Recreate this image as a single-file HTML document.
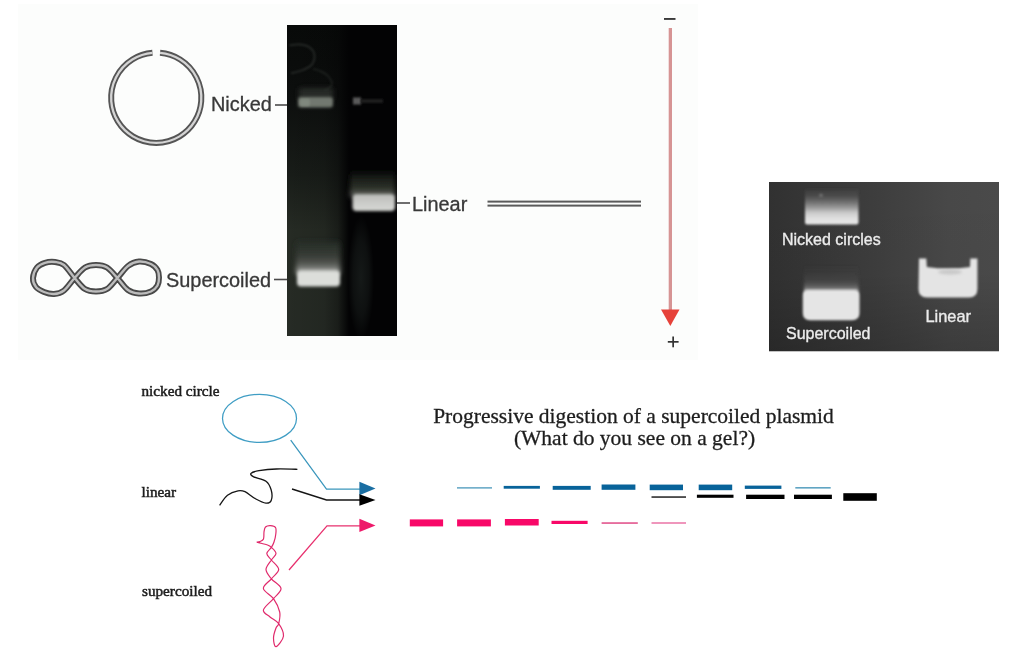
<!DOCTYPE html>
<html><head><meta charset="utf-8">
<style>
html,body{margin:0;padding:0;background:#fff;}
body{width:1030px;height:670px;overflow:hidden;position:relative;}
svg{position:absolute;left:0;top:0;}
</style></head>
<body>
<svg width="1030" height="670" viewBox="0 0 1030 670">
<defs>
<filter id="b1" filterUnits="userSpaceOnUse" x="0" y="0" width="1030" height="670"><feGaussianBlur stdDeviation="1.3"/></filter>
<filter id="b15" filterUnits="userSpaceOnUse" x="0" y="0" width="1030" height="670"><feGaussianBlur stdDeviation="1.8"/></filter>
<filter id="b2" filterUnits="userSpaceOnUse" x="0" y="0" width="1030" height="670"><feGaussianBlur stdDeviation="2.5"/></filter>
<filter id="b4" filterUnits="userSpaceOnUse" x="0" y="0" width="1030" height="670"><feGaussianBlur stdDeviation="5"/></filter>
<filter id="b8" filterUnits="userSpaceOnUse" x="0" y="0" width="1030" height="670"><feGaussianBlur stdDeviation="9"/></filter>
<filter id="t1"><feGaussianBlur stdDeviation="0.3"/></filter>
<filter id="t2"><feGaussianBlur stdDeviation="0.45"/></filter>
<clipPath id="g1c"><rect x="287" y="25" width="110" height="311"/></clipPath>
<clipPath id="g2c"><rect x="769" y="182" width="230" height="169.5"/></clipPath>
<radialGradient id="haze"><stop offset="0" stop-color="#151918"/><stop offset="0.6" stop-color="#151918" stop-opacity="0.6"/><stop offset="1" stop-color="#151918" stop-opacity="0"/></radialGradient>
<linearGradient id="g2h" x1="0" y1="0" x2="1" y2="0">
<stop offset="0" stop-color="#313131"/>
<stop offset="0.48" stop-color="#3e3e3e"/>
<stop offset="0.78" stop-color="#484848"/>
<stop offset="1" stop-color="#4a4a4a"/>
</linearGradient>
<linearGradient id="g2v" x1="0" y1="0" x2="0" y2="1">
<stop offset="0" stop-color="#000" stop-opacity="0"/>
<stop offset="0.55" stop-color="#000" stop-opacity="0.02"/>
<stop offset="1" stop-color="#000" stop-opacity="0.18"/>
</linearGradient>
<linearGradient id="nickG" x1="0" y1="0" x2="0" y2="1">
<stop offset="0" stop-color="#4e4e4e" stop-opacity="0"/>
<stop offset="0.22" stop-color="#4e4e4e" stop-opacity="0.9"/>
<stop offset="0.39" stop-color="#707070"/>
<stop offset="0.56" stop-color="#a0a0a0"/>
<stop offset="0.67" stop-color="#c8c8c8"/>
<stop offset="0.83" stop-color="#e0e0e0"/>
<stop offset="1" stop-color="#e6e6e6"/>
</linearGradient>
<linearGradient id="scG2" x1="0" y1="0" x2="0" y2="1">
<stop offset="0" stop-color="#474747" stop-opacity="0"/>
<stop offset="0.3" stop-color="#474747" stop-opacity="0.15"/>
<stop offset="0.6" stop-color="#474747" stop-opacity="0.7"/>
<stop offset="0.81" stop-color="#606060"/>
<stop offset="0.92" stop-color="#888888"/>
<stop offset="1" stop-color="#d0d0d0"/>
</linearGradient>
<linearGradient id="scGlow" x1="0" y1="0" x2="0" y2="1">
<stop offset="0" stop-color="#283029" stop-opacity="0"/>
<stop offset="0.15" stop-color="#283029"/>
<stop offset="0.5" stop-color="#3a3d38"/>
<stop offset="0.74" stop-color="#5a5d58"/>
<stop offset="0.88" stop-color="#8a8c88"/>
<stop offset="1" stop-color="#c0c2be"/>
</linearGradient>
<linearGradient id="linGlow" x1="0" y1="0" x2="0" y2="1">
<stop offset="0" stop-color="#1c201a" stop-opacity="0"/>
<stop offset="0.35" stop-color="#1c201a"/>
<stop offset="0.7" stop-color="#2e322a"/>
<stop offset="1" stop-color="#6a6c68"/>
</linearGradient>
<linearGradient id="linCore" x1="0" y1="0" x2="0" y2="1">
<stop offset="0" stop-color="#b8bab6"/>
<stop offset="0.5" stop-color="#cacbc8"/>
<stop offset="1" stop-color="#d6d8d4"/>
</linearGradient>
<linearGradient id="lane1v" x1="0" y1="0" x2="0" y2="1">
<stop offset="0" stop-color="#080a09"/>
<stop offset="0.12" stop-color="#0a0c0b"/>
<stop offset="0.24" stop-color="#0d0f0e"/>
<stop offset="0.48" stop-color="#181c18"/>
<stop offset="0.66" stop-color="#262b24"/>
<stop offset="1" stop-color="#262b25"/>
</linearGradient>
<linearGradient id="lane1h" x1="0" y1="0" x2="1" y2="0">
<stop offset="0" stop-color="#030304" stop-opacity="0"/>
<stop offset="0.6" stop-color="#030304" stop-opacity="0.1"/>
<stop offset="0.82" stop-color="#030304" stop-opacity="0.35"/>
<stop offset="1" stop-color="#030304" stop-opacity="1"/>
</linearGradient>
</defs>
<!-- top panel -->
<rect x="18" y="4" width="680" height="356" fill="#fcfdfc"/>

<!-- nicked circle double ring -->
<g fill="none" filter="url(#t1)">
<path d="M160.05,52.86 A45.1,45.1 0 1 1 152.45,52.86" stroke="#555" stroke-width="6"/>
<path d="M160.05,52.86 A45.1,45.1 0 1 1 152.45,52.86" stroke="#d4d4d4" stroke-width="2.3"/>
</g>
<g font-family="Liberation Sans, sans-serif" fill="#383838" stroke="#383838" stroke-width="0.3" font-size="19.9" filter="url(#t1)">
<text x="211" y="111">Nicked</text>
<text x="166" y="286.5">Supercoiled</text>
<text x="412" y="210.6">Linear</text>
</g>
<g stroke="#4a4a4a" stroke-width="1.6">
<line x1="275" y1="105" x2="288" y2="105"/>
<line x1="274" y1="279.5" x2="288" y2="279.5"/>
<line x1="396" y1="203" x2="410" y2="203"/>
</g>

<!-- figure eight supercoiled -->
<g filter="url(#t1)">
<path d="M33.0,278.0 C33.2,274.8 35.0,270.0 37.0,267.5 C39.0,265.0 42.0,263.7 45.0,262.8 C48.0,261.9 51.8,261.6 55.0,262.0 C58.2,262.4 60.7,262.3 64.0,265.0 C67.3,267.7 71.1,274.0 74.6,278.0 C78.1,282.0 81.4,286.8 85.0,289.0 C88.6,291.2 92.3,291.5 96.0,291.5 C99.7,291.5 103.4,291.2 107.0,289.0 C110.6,286.8 113.9,281.8 117.4,278.0 C120.9,274.2 124.4,268.8 128.0,266.0 C131.6,263.2 135.2,261.8 139.0,261.5 C142.8,261.2 147.9,262.6 151.0,264.0 C154.1,265.4 156.2,267.8 157.5,270.0 C158.8,272.2 159.0,274.9 159.0,277.5 C159.0,280.1 158.8,283.2 157.5,285.5 C156.2,287.8 154.1,290.2 151.0,291.5 C147.9,292.8 142.8,293.8 139.0,293.5 C135.2,293.2 131.6,292.6 128.0,290.0 C124.4,287.4 120.9,281.8 117.4,278.0 C113.9,274.2 110.6,269.7 107.0,267.5 C103.4,265.3 99.7,265.0 96.0,265.0 C92.3,265.0 88.6,265.3 85.0,267.5 C81.4,269.7 78.1,274.2 74.6,278.0 C71.1,281.8 67.4,287.8 64.0,290.5 C60.6,293.2 57.3,293.8 54.0,294.0 C50.7,294.2 47.0,293.2 44.0,292.0 C41.0,290.8 37.8,289.3 36.0,287.0 C34.2,284.7 32.8,281.2 33.0,278.0Z" fill="none" stroke="#484848" stroke-width="6"/>
<path d="M33.0,278.0 C33.2,274.8 35.0,270.0 37.0,267.5 C39.0,265.0 42.0,263.7 45.0,262.8 C48.0,261.9 51.8,261.6 55.0,262.0 C58.2,262.4 60.7,262.3 64.0,265.0 C67.3,267.7 71.1,274.0 74.6,278.0 C78.1,282.0 81.4,286.8 85.0,289.0 C88.6,291.2 92.3,291.5 96.0,291.5 C99.7,291.5 103.4,291.2 107.0,289.0 C110.6,286.8 113.9,281.8 117.4,278.0 C120.9,274.2 124.4,268.8 128.0,266.0 C131.6,263.2 135.2,261.8 139.0,261.5 C142.8,261.2 147.9,262.6 151.0,264.0 C154.1,265.4 156.2,267.8 157.5,270.0 C158.8,272.2 159.0,274.9 159.0,277.5 C159.0,280.1 158.8,283.2 157.5,285.5 C156.2,287.8 154.1,290.2 151.0,291.5 C147.9,292.8 142.8,293.8 139.0,293.5 C135.2,293.2 131.6,292.6 128.0,290.0 C124.4,287.4 120.9,281.8 117.4,278.0 C113.9,274.2 110.6,269.7 107.0,267.5 C103.4,265.3 99.7,265.0 96.0,265.0 C92.3,265.0 88.6,265.3 85.0,267.5 C81.4,269.7 78.1,274.2 74.6,278.0 C71.1,281.8 67.4,287.8 64.0,290.5 C60.6,293.2 57.3,293.8 54.0,294.0 C50.7,294.2 47.0,293.2 44.0,292.0 C41.0,290.8 37.8,289.3 36.0,287.0 C34.2,284.7 32.8,281.2 33.0,278.0Z" fill="none" stroke="#bcbcbc" stroke-width="2.4"/>
</g>

<!-- double line linear -->
<rect x="487.5" y="200.6" width="153.5" height="2" fill="#5a5a5a"/>
<rect x="487.5" y="204.6" width="153.5" height="2" fill="#5a5a5a"/>

<!-- gel 1 -->
<g clip-path="url(#g1c)">
<rect x="287" y="25" width="110" height="311" fill="#030304"/>
<rect x="287" y="25" width="62" height="311" fill="url(#lane1v)"/>
<rect x="287" y="25" width="62" height="311" fill="url(#lane1h)"/>
<ellipse cx="361" cy="278" rx="13" ry="62" fill="url(#haze)"/>
<path d="M289.4,45.4 C291.2,45.2 296.7,44.2 300.0,44.5 C303.3,44.8 306.6,45.4 309.0,47.0 C311.4,48.6 313.8,51.3 314.3,54.2 C314.8,57.1 313.9,61.8 312.0,64.4 C310.1,67.0 306.5,68.5 303.0,70.0 C299.5,71.5 293.0,72.7 291.0,73.2" fill="none" stroke="#5a605c" stroke-width="1.8" opacity="0.35" filter="url(#b1)"/>
<path d="M313.0,69.0 C314.2,69.3 317.5,69.8 320.0,71.0 C322.5,72.2 326.0,73.7 328.0,76.0 C330.0,78.3 332.4,82.4 331.8,84.9 C331.2,87.4 325.7,89.8 324.5,90.8" fill="none" stroke="#4a504c" stroke-width="1.8" opacity="0.3" filter="url(#b1)"/>
<!-- nicked band -->
<rect x="299" y="88" width="34" height="12" fill="#2e332e" opacity="0.8" filter="url(#b2)"/>
<rect x="298" y="97" width="35" height="10.5" rx="3" fill="#727870" filter="url(#b15)"/>
<rect x="300" y="99" width="10" height="7" rx="2" fill="#80887e" filter="url(#b1)"/>
<rect x="353" y="97.5" width="8" height="7" fill="#5a5a5a" filter="url(#b1)"/>
<rect x="361" y="99" width="22" height="4" fill="#1a1a1a" filter="url(#b1)"/>
<!-- supercoiled band -->
<rect x="296" y="240" width="44" height="34" fill="url(#scGlow)" filter="url(#b2)"/>
<rect x="297" y="270.5" width="43" height="16" rx="4" fill="#dcdeda" filter="url(#b15)"/>
<!-- linear band -->
<rect x="350" y="170" width="45" height="27" fill="url(#linGlow)" filter="url(#b2)"/>
<rect x="352.5" y="194" width="42.5" height="17" rx="4" fill="url(#linCore)" filter="url(#b15)"/>
</g>

<!-- electrophoresis arrow -->
<rect x="664" y="18" width="11.5" height="1.9" fill="#3a3a3a"/>
<rect x="668.7" y="28" width="3.3" height="283" fill="#d69494"/>
<polygon points="661,309.5 679.5,309.5 670.3,326" fill="#e6423a"/>
<rect x="667.8" y="341" width="10.8" height="1.7" fill="#333"/>
<rect x="672.3" y="336.5" width="1.7" height="10.8" fill="#333"/>

<!-- gel 2 -->
<g clip-path="url(#g2c)">
<rect x="769" y="182" width="230" height="169.5" fill="url(#g2h)"/>
<rect x="769" y="182" width="230" height="169.5" fill="url(#g2v)"/>
<!-- nicked -->
<rect x="805" y="188" width="53.5" height="36.5" rx="2" fill="url(#nickG)" filter="url(#b1)"/>
<circle cx="821" cy="195.5" r="2" fill="#6c6c6c" filter="url(#b1)"/>
<!-- supercoiled -->
<rect x="804" y="264" width="54.5" height="28" fill="url(#scG2)" filter="url(#b15)"/>
<path d="M808,290 L854,290 Q859.5,290 859.5,295 L859.5,313 Q859.5,320.3 852,320.3 L810,320.3 Q802.8,320.3 802.8,313 L802.8,295 Q802.8,290 808,290 Z" fill="#e5e5e5" filter="url(#b1)"/>
<!-- linear -->
<path d="M919,258.4 L926.3,258.4 L926.8,267 Q948,270 970,267 L970.3,258.4 L977.4,258.4 L977.4,289 Q977.4,297.5 969,297.5 L927,297.5 Q918.5,297.5 918.5,289 Z" fill="#e4e4e4" filter="url(#b1)"/>
<ellipse cx="950" cy="272" rx="12" ry="2.5" fill="#c8c8c8" filter="url(#b15)"/>
<g font-family="Liberation Sans, sans-serif" fill="#ececec" stroke="#ececec" stroke-width="0.35" font-size="16" filter="url(#t1)">
<text x="782" y="245.2">Nicked circles</text>
<text x="786" y="338.8">Supercoiled</text>
<text x="925.5" y="322.2" font-size="16.4">Linear</text>
</g>
</g>

<!-- lower diagram -->
<g font-family="Liberation Serif, serif" fill="#1c1c1c" stroke="#1c1c1c" stroke-width="0.5" font-size="15.2" filter="url(#t1)">
<text transform="translate(141.5,395.6) scale(1,1)">nicked circle</text>
<text transform="translate(141.5,496.5) scale(1,1)">linear</text>
<text transform="translate(142,595.6) scale(1,1)">supercoiled</text>
</g>
<ellipse cx="259.5" cy="418.4" rx="37" ry="24" fill="none" stroke="#3f9dc4" stroke-width="1.25"/>
<path d="M219.6,505.3 C220.9,503.6 224.4,497.6 227.5,495.2 C230.6,492.8 235.1,491.4 238.0,490.8 C240.9,490.2 242.1,490.4 245.0,491.7 C247.9,493.0 251.9,496.8 255.4,498.7 C258.9,500.6 263.3,502.8 265.9,503.1 C268.5,503.4 270.3,502.6 271.2,500.4 C272.1,498.2 272.1,493.2 271.2,490.0 C270.3,486.8 268.9,483.4 266.0,481.2 C263.1,479.0 256.2,478.1 253.7,476.8 C251.2,475.5 250.1,474.4 251.0,473.4 C251.9,472.4 254.8,471.4 259.0,470.7 C263.2,470.0 270.0,469.2 276.4,469.0 C282.8,468.8 293.9,469.2 297.4,469.3" fill="none" stroke="#151515" stroke-width="1.3"/>
<path d="M256.7,542.2 C257.6,542.4 260.2,543.0 262.0,543.5 C263.8,544.0 265.9,544.4 267.5,545.0 C269.1,545.6 270.0,546.0 271.4,547.4 C272.8,548.8 276.0,551.4 276.0,553.5 C276.0,555.6 273.1,557.3 271.4,560.0 C269.7,562.7 266.0,566.4 266.0,569.5 C266.0,572.6 268.9,575.6 271.4,578.8 C273.9,582.0 280.6,585.2 281.0,588.5 C281.4,591.8 276.4,595.0 273.5,598.6 C270.6,602.2 264.0,606.9 263.4,610.0 C262.8,613.1 267.4,614.7 270.0,617.0 C272.6,619.3 276.4,620.5 278.7,623.7 C280.9,626.9 283.9,632.2 283.5,636.0 C283.1,639.8 277.7,646.4 276.0,646.7 C274.3,647.0 273.5,641.1 273.5,638.0 C273.5,634.9 275.1,630.4 276.0,628.0 C276.9,625.6 278.1,626.4 278.7,623.7 C279.3,621.0 280.6,616.2 279.7,612.0 C278.8,607.8 276.2,602.5 273.5,598.6 C270.8,594.7 263.8,591.8 263.4,588.5 C263.0,585.2 268.8,582.0 271.4,578.8 C273.9,575.6 278.7,572.6 278.7,569.5 C278.7,566.4 273.4,562.7 271.4,560.0 C269.4,557.3 266.8,555.6 266.8,553.5 C266.8,551.4 270.2,549.3 271.4,547.4 C272.6,545.5 273.3,544.2 274.0,542.0 C274.7,539.8 275.6,536.4 275.8,534.0 C276.1,531.6 276.4,528.9 275.5,527.5 C274.6,526.1 272.2,525.7 270.5,525.6 C268.8,525.5 266.6,525.9 265.5,527.0 C264.4,528.1 264.3,530.0 264.0,532.0 C263.7,534.0 264.2,537.4 263.5,539.0 C262.8,540.6 261.1,541.0 260.0,541.5 C258.9,542.0 257.2,542.1 256.7,542.2" fill="none" stroke="#e02a6c" stroke-width="1.2"/>

<polyline points="290.7,440.1 326.5,489 360,489" fill="none" stroke="#3a96bc" stroke-width="1.25"/>
<polygon points="359.4,481.8 375.5,488.6 359.4,495.2" fill="#1a6ea2"/>
<polyline points="292,489 326.5,500 360,500" fill="none" stroke="#151515" stroke-width="1.4"/>
<polygon points="359.4,494.3 375.5,500 359.4,505.7" fill="#000"/>
<polyline points="289,570 327,525.8 360,525.8" fill="none" stroke="#e8306e" stroke-width="1.25"/>
<polygon points="359.4,518.8 375.5,525.5 359.4,532" fill="#ee1a6a"/>

<g font-family="Liberation Serif, serif" fill="#1e1e1e" stroke="#1e1e1e" stroke-width="0.3" font-size="21.5" text-anchor="middle" filter="url(#t1)">
<text x="633.5" y="422.6">Progressive digestion of a supercoiled plasmid</text>
<text x="634.5" y="444.6">(What do you see on a gel?)</text>
</g>

<!-- dashes blue -->
<g fill="#08639a">
<rect x="457" y="487.3" width="35" height="1.2" fill="#3b8fb5"/>
<rect x="503.7" y="485.9" width="36.2" height="2.8"/>
<rect x="552.7" y="485.9" width="38" height="3.9"/>
<rect x="601.6" y="484.5" width="33.8" height="5.3"/>
<rect x="649.7" y="484.6" width="33.3" height="5.6"/>
<rect x="698.7" y="484.6" width="33.5" height="5.6"/>
<rect x="744.8" y="485.6" width="36.6" height="3.3"/>
<rect x="795.3" y="487.2" width="35.4" height="1.3" fill="#3b8fb5"/>
</g>
<g fill="#000">
<rect x="651.5" y="496.3" width="34.5" height="1.5" fill="#222"/>
<rect x="696.9" y="494.7" width="36.6" height="3.1"/>
<rect x="746.1" y="494.7" width="38.4" height="4.3"/>
<rect x="794" y="494.7" width="37.9" height="4.3"/>
<rect x="843.3" y="493.2" width="33.5" height="7.6"/>
</g>
<g fill="#f80868">
<rect x="409.8" y="519.4" width="33.3" height="7"/>
<rect x="457.1" y="519.4" width="33.8" height="7"/>
<rect x="504.9" y="519" width="33.8" height="6.5"/>
<rect x="551.5" y="520.8" width="36.1" height="3.2"/>
<rect x="601.6" y="522.3" width="36.2" height="1.5" fill="#e04a86"/>
<rect x="651.5" y="522.3" width="34.5" height="1.4" fill="#e86aa0"/>
</g>
</svg>
</body></html>
